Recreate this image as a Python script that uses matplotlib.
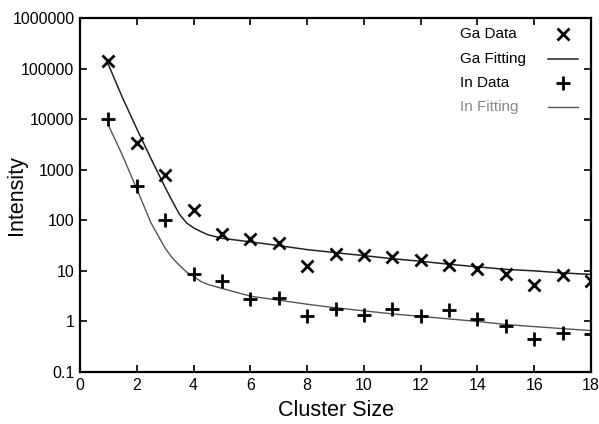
import matplotlib
matplotlib.use("Agg")
import matplotlib.pyplot as plt
from matplotlib.ticker import FixedLocator, FixedFormatter

# ---- data ----
cluster_size = [1, 2, 3, 4, 5, 6, 7, 8, 9, 10, 11, 12, 13, 14, 15, 16, 17, 18]
ga_data = [140000, 3400, 790, 160, 53, 42, 36, 12.3, 21.5, 20.5, 18.6, 16.5,
           13.2, 10.8, 8.5, 5.3, 8.1, 6.4]
in_data = [10000, 470, 102, 8.8, 6.3, 2.8, 2.9, 1.27, 1.78, 1.35, 1.75, 1.29,
           1.70, 1.1, 0.80, 0.45, 0.59, 0.57]

fit_x = [1, 1.5, 2, 2.5, 3, 3.25, 3.5, 3.75, 4, 4.25, 4.5, 5, 6, 7, 8, 9,
         10, 11, 12, 13, 14, 15, 16, 17, 18]
ga_fit = [120000, 26300, 6460, 1660, 447, 240, 132, 89, 71, 60, 52, 44, 37.5,
          31.6, 26.3, 22.9, 20, 17.4, 15.5, 13.5, 12, 10.7, 10, 9.1, 8.5]
in_fit = [7600, 1900, 417, 89, 28, 18, 12.9, 9.5, 7.8, 6.2, 5.4, 4.5, 3.16,
          2.63, 2.19, 1.86, 1.62, 1.41, 1.26, 1.12, 1.0, 0.87, 0.79, 0.72, 0.66]

x_ticks = [0, 2, 4, 6, 8, 10, 12, 14, 16, 18]
y_ticks = [0.1, 1, 10, 100, 1000, 10000, 100000, 1000000]
y_tick_labels = ["0.1", "1", "10", "100", "1000", "10000", "100000", "1000000"]
legend_labels = ['Ga Data', 'Ga Fitting', 'In Data', 'In Fitting']

plt.rcParams['font.family'] = ['Liberation Sans', 'DejaVu Sans']

fig = plt.figure(figsize=(5.99, 4.24), dpi=100)
ax = fig.add_axes([80 / 599, 1 - 372 / 424, 511 / 599, 354 / 424])

ga_fit_style = dict(color='#222222', lw=1.1)
in_fit_style = dict(color='#555555', lw=1.0)
ga_mark_style = dict(linestyle='none', marker='x', ms=8, mew=2.0, color='black')
in_mark_style = dict(linestyle='none', marker='+', ms=10, mew=2.0, color='black')

ax.plot(fit_x, ga_fit, zorder=2, **ga_fit_style)
ax.plot(fit_x, in_fit, zorder=2, **in_fit_style)
ax.plot(cluster_size, ga_data, zorder=3, **ga_mark_style)
ax.plot(cluster_size, in_data, zorder=3, **in_mark_style)

ax.set_yscale('log')
ax.set_xlim(0, 18)
ax.set_ylim(0.1, 1000000)
ax.xaxis.set_major_locator(FixedLocator(x_ticks))
ax.yaxis.set_major_locator(FixedLocator(y_ticks))
ax.yaxis.set_major_formatter(FixedFormatter(y_tick_labels))
ax.yaxis.set_minor_locator(FixedLocator([]))

ax.tick_params(axis='both', which='major', direction='in', length=5,
               width=1.2, labelsize=11.5, pad=4, top=True, right=True)
for s in ax.spines.values():
    s.set_linewidth(1.6)

ax.set_xlabel('Cluster Size', fontsize=15.5)
ax.set_ylabel('Intensity', fontsize=15.5)
ax.xaxis.set_label_coords(0.5, -0.08)
ax.yaxis.set_label_coords(-0.104, 0.5)

# ---- manual legend (text left-aligned, sample on the right) ----
def ax_x(px):
    return (px - 80) / 511

def ax_y(py):
    return 1 - (py - 18) / 354

row_y = [34, 59, 83, 107]
text_colors = ['black', 'black', 'black', '#888888']
for lab, py, c in zip(legend_labels, row_y, text_colors):
    ax.text(ax_x(460), ax_y(py), lab, transform=ax.transAxes, fontsize=11,
            ha='left', va='center', color=c)

ax.plot([ax_x(563)], [ax_y(row_y[0])], transform=ax.transAxes, clip_on=False,
        **ga_mark_style)
ax.plot([ax_x(548), ax_x(578)], [ax_y(row_y[1])] * 2, transform=ax.transAxes,
        clip_on=False, **ga_fit_style)
ax.plot([ax_x(563)], [ax_y(row_y[2])], transform=ax.transAxes, clip_on=False,
        **in_mark_style)
ax.plot([ax_x(548), ax_x(578)], [ax_y(row_y[3])] * 2, transform=ax.transAxes,
        clip_on=False, **in_fit_style)

fig.savefig('out.png', dpi=100)
